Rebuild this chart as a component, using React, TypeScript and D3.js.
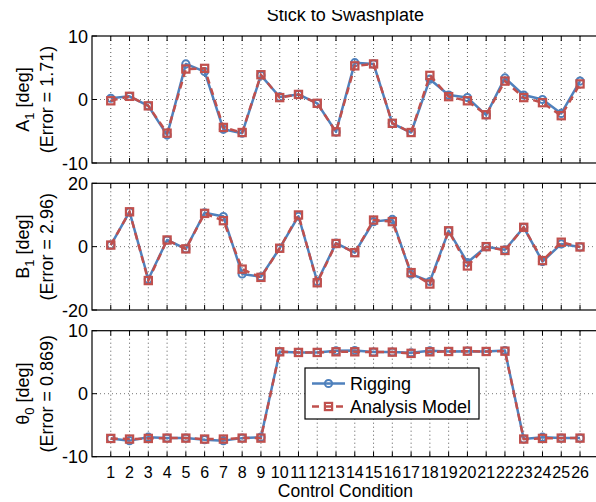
import React from "react";
import * as d3 from "d3";

// Control conditions along the x axis
const conditions = [1, 2, 3, 4, 5, 6, 7, 8, 9, 10, 11, 12, 13, 14, 15, 16, 17, 18, 19, 20, 21, 22, 23, 24, 25, 26];

// Lateral cyclic A1 [deg]
const a1Rigging = [0.2, 0.5, -1.0, -5.6, 5.6, 4.4, -4.7, -5.3, 3.8, 0.4, 0.8, -0.6, -5.1, 5.8, 5.6, -3.75, -5.2, 3.2, 0.7, 0.3, -2.45, 3.4, 0.7, 0.0, -2.2, 2.9];
const a1Model = [-0.2, 0.5, -1.0, -5.3, 4.8, 4.9, -4.4, -5.2, 3.9, 0.3, 0.8, -0.6, -5.1, 5.3, 5.6, -3.75, -5.2, 3.8, 0.45, -0.2, -2.4, 2.9, 0.3, -0.5, -2.55, 2.45];

// Longitudinal cyclic B1 [deg]
const b1Rigging = [0.5, 11.0, -10.3, 2.1, -0.7, 10.7, 9.5, -8.6, -9.5, -0.5, 9.6, -11.0, 1.1, -1.9, 7.9, 8.6, -8.7, -11.0, 5.0, -5.0, 0.0, -1.0, 6.1, -4.7, 0.85, -0.1];
const b1Model = [0.5, 11.0, -10.7, 2.1, -0.7, 10.5, 8.2, -7.1, -9.7, -0.5, 10.0, -11.4, 1.0, -1.9, 8.4, 7.9, -8.2, -11.8, 5.0, -6.1, 0.0, -1.2, 6.1, -4.4, 1.4, -0.1];

// Collective theta0 [deg]
const t0Rigging = [-7.1, -7.45, -6.9, -7.05, -7.05, -7.3, -7.45, -7.05, -6.9, 6.65, 6.55, 6.55, 6.8, 6.85, 6.6, 6.6, 6.5, 6.8, 6.7, 6.75, 6.7, 6.85, -7.2, -6.9, -7.05, -7.05];
const t0Model = [-7.1, -7.2, -7.1, -7.05, -7.05, -7.2, -7.2, -7.05, -7.05, 6.65, 6.55, 6.55, 6.65, 6.65, 6.6, 6.6, 6.4, 6.65, 6.7, 6.75, 6.7, 6.75, -7.2, -7.1, -7.05, -7.05];

const a1Ticks = [-10, 0, 10];
const b1Ticks = [-20, 0, 20];
const t0Ticks = [-10, 0, 10];

const seriesNames = ["Rigging", "Analysis Model"];
const errorLabels = ["1.71", "2.96", "0.869"];

const W = 596;
const H = 502;
const FONT = "'Liberation Sans', Arial, Helvetica, sans-serif";
const BLUE = "#4F81BD";
const RED = "#C0504D";

const x = d3.scaleLinear().domain([0, 27]).range([92, 598.8]);

type Panel = {
  sym: string;
  sub: string;
  err: string;
  ticks: number[];
  rig: number[];
  mod: number[];
  top: number;
  bottom: number;
};

const panels: Panel[] = [
  { sym: "A", sub: "1", err: errorLabels[0], ticks: a1Ticks, rig: a1Rigging, mod: a1Model, top: 36, bottom: 163 },
  { sym: "B", sub: "1", err: errorLabels[1], ticks: b1Ticks, rig: b1Rigging, mod: b1Model, top: 183.3, bottom: 310 },
  { sym: "\u03b8", sub: "0", err: errorLabels[2], ticks: t0Ticks, rig: t0Rigging, mod: t0Model, top: 330.7, bottom: 456.7 },
];

function PanelView({ p, last }: { p: Panel; last: boolean }) {
  const y = d3
    .scaleLinear()
    .domain([p.ticks[0], p.ticks[p.ticks.length - 1]])
    .range([p.bottom, p.top]);
  const line = d3
    .line<number>()
    .x((_, i) => x(conditions[i]))
    .y((v) => y(v));
  const cy = (p.top + p.bottom) / 2;
  const x0 = x.range()[0];
  const x1 = x.range()[1];
  return (
    <g>
      {/* dotted grid */}
      {conditions.map((c) => (
        <line key={"gx" + c} x1={x(c)} x2={x(c)} y1={p.top} y2={p.bottom} stroke="#555" strokeWidth={1} strokeDasharray="1 3" />
      ))}
      {p.ticks
        .filter((t) => t !== p.ticks[0] && t !== p.ticks[p.ticks.length - 1])
        .map((t) => (
          <line key={"gy" + t} x1={x0} x2={x1} y1={y(t)} y2={y(t)} stroke="#777" strokeWidth={1} strokeDasharray="1 3" />
        ))}
      {/* x ticks, inward at top and bottom */}
      {conditions.map((c) => (
        <g key={"tx" + c}>
          <line x1={x(c)} x2={x(c)} y1={p.bottom} y2={p.bottom - 5} stroke="#000" strokeWidth={1} />
          <line x1={x(c)} x2={x(c)} y1={p.top} y2={p.top + 5} stroke="#000" strokeWidth={1} />
        </g>
      ))}
      {/* y ticks and labels */}
      {p.ticks.map((t) => (
        <g key={"ty" + t}>
          <line x1={x0} x2={x0 + 5} y1={y(t)} y2={y(t)} stroke="#000" strokeWidth={1} />
          <text x={88} y={y(t) + 6.5} textAnchor="end" fontSize={18} fontFamily={FONT} fill="#000">
            {t}
          </text>
        </g>
      ))}
      {/* series */}
      <path d={line(p.rig) ?? ""} fill="none" stroke={BLUE} strokeWidth={2.5} strokeLinejoin="round" />
      {p.rig.map((v, i) => (
        <circle key={"cr" + i} cx={x(conditions[i])} cy={y(v)} r={3.6} fill="none" stroke={BLUE} strokeWidth={2} />
      ))}
      <path d={line(p.mod) ?? ""} fill="none" stroke={RED} strokeWidth={2.5} strokeDasharray="7 5" />
      {p.mod.map((v, i) => (
        <rect key={"sq" + i} x={x(conditions[i]) - 3.6} y={y(v) - 3.6} width={7.2} height={7.2} fill="none" stroke={RED} strokeWidth={2.2} />
      ))}
      {/* axes box */}
      <rect x={x0} y={p.top} width={x1 - x0} height={p.bottom - p.top} fill="none" stroke="#000" strokeWidth={1.2} />
      {/* y label */}
      <g transform={`translate(0,${cy}) rotate(-90)`}>
        <text x={0} y={28.5} textAnchor="middle" fontSize={18} fontFamily={FONT} fill="#000">
          <tspan>{p.sym}</tspan>
          <tspan dy={5} fontSize={13}>{p.sub}</tspan>
          <tspan dy={-5}>{" [deg]"}</tspan>
        </text>
        <text x={0} y={52.5} textAnchor="middle" fontSize={18} fontFamily={FONT} fill="#000">
          {`(Error = ${p.err})`}
        </text>
      </g>
      {last &&
        conditions.map((c) => (
          <text key={"lx" + c} x={x(c)} y={477.5} textAnchor="middle" fontSize={16} fontFamily={FONT} fill="#000">
            {c}
          </text>
        ))}
    </g>
  );
}

export default function App() {
  const cx = (x.range()[0] + x.range()[1]) / 2;
  return (
    <svg width={W} height={H} viewBox={`0 0 ${W} ${H}`} style={{ position: "absolute", left: 0, top: 0, display: "block", background: "#fff" }}>
      <defs>
        <clipPath id="titleClip">
          <rect x={0} y={10} width={W} height={30} />
        </clipPath>
      </defs>
      <rect x={0} y={0} width={W} height={H} fill="#fff" />
      <text x={cx} y={21} textAnchor="middle" fontSize={18} fontFamily={FONT} fill="#000" clipPath="url(#titleClip)">
        Stick to Swashplate
      </text>
      {panels.map((p, i) => (
        <PanelView key={i} p={p} last={i === panels.length - 1} />
      ))}
      <text x={cx} y={497} textAnchor="middle" fontSize={17.5} fontFamily={FONT} fill="#000">
        Control Condition
      </text>
      {/* legend */}
      <g>
        <rect x={305} y={368} width={174} height={51} fill="#fff" stroke="#000" strokeWidth={1.2} />
        <line x1={312} x2={345} y1={383.5} y2={383.5} stroke={BLUE} strokeWidth={2.5} />
        <circle cx={328.5} cy={383.5} r={3.6} fill="none" stroke={BLUE} strokeWidth={2} />
        <text x={350} y={390} fontSize={18} fontFamily={FONT} fill="#000">{seriesNames[0]}</text>
        <line x1={312} x2={345} y1={406.5} y2={406.5} stroke={RED} strokeWidth={2.5} strokeDasharray="7 5" />
        <rect x={324.9} y={402.9} width={7.2} height={7.2} fill="none" stroke={RED} strokeWidth={2.2} />
        <text x={350} y={413} fontSize={18} fontFamily={FONT} fill="#000">{seriesNames[1]}</text>
      </g>
    </svg>
  );
}
